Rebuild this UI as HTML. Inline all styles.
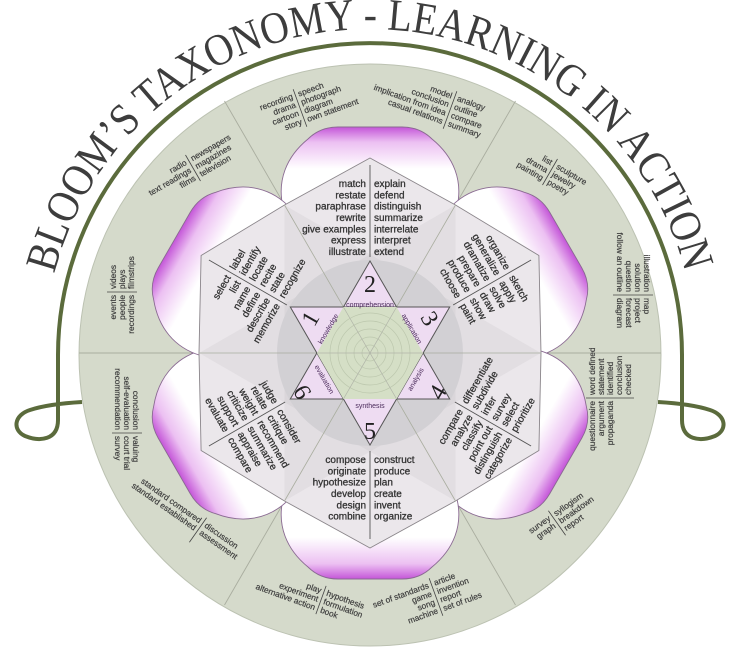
<!DOCTYPE html>
<html><head><meta charset="utf-8"><style>
html,body{margin:0;padding:0;background:#fff}
svg{display:block}
.o{font-family:"Liberation Sans",sans-serif;font-size:8.3px;fill:#3e3e3e;stroke:#3e3e3e;stroke-width:0.2}
.i{font-family:"Liberation Sans",sans-serif;font-size:10px;fill:#333;stroke:#333;stroke-width:0.3}
.n{font-family:"Liberation Serif",serif;font-size:24px;fill:#222}
.l{font-family:"Liberation Sans",sans-serif;font-size:7px;fill:#4a2a5a}
</style></head><body>
<svg width="736" height="668" viewBox="0 0 736 668" xmlns="http://www.w3.org/2000/svg">
<defs>
<linearGradient id="pg" x1="0" y1="-150" x2="0" y2="-226" gradientUnits="userSpaceOnUse">
<stop offset="0" stop-color="#fff"/><stop offset="0.45" stop-color="#fff"/><stop offset="0.8" stop-color="#ecc0f2"/><stop offset="1" stop-color="#c455d8"/>
</linearGradient>
<path id="petal" d="M-87,-146 C-93,-172 -84,-196 -62,-214 Q-50,-226 -32,-226 L32,-226 Q50,-226 62,-214 C84,-196 93,-172 87,-146 Z" fill="url(#pg)" stroke="#8a6a92" stroke-width="0.9"/>
<path id="tp" d="M44,355 A326,326 0 0 1 696,355"/>
</defs>

<path d="M58,355 A312,312 0 0 1 682,355" fill="none" stroke="#5b6b3c" stroke-width="4"/>
<path d="M58,354 L58,420 C58,440 40,442 25,436 C12,430 14,415 30,410 C45,405 65,403 82,402" fill="none" stroke="#5b6b3c" stroke-width="4"/>
<path d="M682,354 L682,420 C682,440 700,442 715,436 C728,430 726,415 710,410 C695,405 675,403 658,402" fill="none" stroke="#5b6b3c" stroke-width="4"/>

<text style="font-family:'Liberation Serif',serif;font-size:45px;fill:#3d3d3d"><textPath href="#tp" startOffset="82" textLength="858" lengthAdjust="spacingAndGlyphs">BLOOM’S TAXONOMY - LEARNING IN ACTION</textPath></text>

<circle cx="370" cy="355" r="291" fill="#d5dacb" stroke="#bcc2b2" stroke-width="1"/>

<g transform="translate(370,353)">
<g stroke="#a9ad9f" stroke-width="0.9">
<line x1="0" y1="0" x2="291" y2="0"/><line x1="0" y1="0" x2="-291" y2="0"/>
<line x1="0" y1="0" x2="145.5" y2="-252"/><line x1="0" y1="0" x2="-145.5" y2="-252"/>
<line x1="0" y1="0" x2="145.5" y2="252"/><line x1="0" y1="0" x2="-145.5" y2="252"/>
</g>
<use href="#petal"/>
<use href="#petal" transform="rotate(60)"/>
<use href="#petal" transform="rotate(120)"/>
<use href="#petal" transform="rotate(180)"/>
<use href="#petal" transform="rotate(240)"/>
<use href="#petal" transform="rotate(300)"/>
<polygon points="0,-195 85.5,-148 168.9,-97.5 171,0 168.9,97.5 85.5,148 0,195 -85.5,148 -168.9,97.5 -171,0 -168.9,-97.5 -85.5,-148" fill="#ebe7eb" stroke="#8a858a" stroke-width="0.9"/>
<polygon points="171,0 -85.5,-148 -85.5,148" fill="#000" fill-opacity="0.035"/>
<polygon points="-171,0 85.5,-148 85.5,148" fill="#000" fill-opacity="0.035"/>
<circle r="93" fill="#d2d0d4"/>
<g stroke="#a9ad9f" stroke-width="0.8">
<line x1="-171" y1="0" x2="171" y2="0"/><line x1="-85.5" y1="-148" x2="85.5" y2="148"/><line x1="85.5" y1="-148" x2="-85.5" y2="148"/>
</g>
<polygon points="0,-92 79.7,46 -79.7,46" fill="#eedcf2" stroke="#555" stroke-width="1"/>
<polygon points="-79.7,-46 79.7,-46 0,92" fill="#eedcf2" stroke="#555" stroke-width="1"/>
<polygon points="26.6,-46 53.1,0 26.6,46 -26.6,46 -53.1,0 -26.6,-46" fill="#d5dfc6"/>
<g fill="none" stroke="#bcc7ad" stroke-width="0.7">
<circle r="8"/><circle r="16"/><circle r="24"/><circle r="32"/><circle r="40"/>
</g>
<g stroke="#b0b4a8" stroke-width="0.7"><line x1="-53" y1="0" x2="53" y2="0"/><line x1="-26.6" y1="-46" x2="26.6" y2="46"/><line x1="26.6" y1="-46" x2="-26.6" y2="46"/></g>

<g text-anchor="middle">
<g><text class="n" y="-61">2</text><text class="l" y="-46">comprehension</text></g>
<g transform="rotate(60)"><text class="n" y="-61">3</text><text class="l" y="-46">application</text></g>
<g transform="rotate(-60)"><text class="n" y="-61">1</text><text class="l" y="-46">knowledge</text></g>
<g><text class="l" y="55">synthesis</text><text class="n" y="86">5</text></g>
<g transform="rotate(-60)"><text class="l" y="55">analysis</text><text class="n" y="86">4</text></g>
<g transform="rotate(60)"><text class="l" y="55">evaluation</text><text class="n" y="86">6</text></g>
</g>

<g>
<line x1="0" y1="-188" x2="0" y2="-96" stroke="#555" stroke-width="0.9"/>
<g class="i" text-anchor="end">
<text x="-4" y="-166">match</text><text x="-4" y="-154.7">restate</text><text x="-4" y="-143.3">paraphrase</text><text x="-4" y="-132">rewrite</text><text x="-4" y="-120.7">give examples</text><text x="-4" y="-109.3">express</text><text x="-4" y="-98">illustrate</text>
</g>
<g class="i">
<text x="4" y="-166">explain</text><text x="4" y="-154.7">defend</text><text x="4" y="-143.3">distinguish</text><text x="4" y="-132">summarize</text><text x="4" y="-120.7">interrelate</text><text x="4" y="-109.3">interpret</text><text x="4" y="-98">extend</text>
</g>
</g>
<g transform="rotate(-60)">
<line x1="0" y1="-186" x2="0" y2="-96" stroke="#555" stroke-width="0.9"/>
<g class="i" text-anchor="end">
<text x="-4" y="-158">select</text><text x="-4" y="-146.7">list</text><text x="-4" y="-135.3">name</text><text x="-4" y="-124">define</text><text x="-4" y="-112.7">describe</text><text x="-4" y="-101.3">memorize</text>
</g>
<g class="i">
<text x="4" y="-158">label</text><text x="4" y="-146.7">identify</text><text x="4" y="-135.3">locate</text><text x="4" y="-124">recite</text><text x="4" y="-112.7">state</text><text x="4" y="-101.3">recognize</text>
</g>
</g>
<g transform="rotate(60)">
<line x1="0" y1="-186" x2="0" y2="-96" stroke="#555" stroke-width="0.9"/>
<g class="i" text-anchor="end">
<text x="-4" y="-158">organize</text><text x="-4" y="-146.7">generalize</text><text x="-4" y="-135.3">dramatize</text><text x="-4" y="-124">prepare</text><text x="-4" y="-112.7">produce</text><text x="-4" y="-101.3">choose</text>
</g>
<g class="i">
<text x="4" y="-158">sketch</text><text x="4" y="-146.7">apply</text><text x="4" y="-135.3">solve</text><text x="4" y="-124">draw</text><text x="4" y="-112.7">show</text><text x="4" y="-101.3">paint</text>
</g>
</g>
<g>
<line x1="0" y1="98" x2="0" y2="186" stroke="#555" stroke-width="0.9"/>
<g class="i" text-anchor="end">
<text x="-4" y="110">compose</text><text x="-4" y="121.3">originate</text><text x="-4" y="132.7">hypothesize</text><text x="-4" y="144">develop</text><text x="-4" y="155.3">design</text><text x="-4" y="166.7">combine</text>
</g>
<g class="i">
<text x="4" y="110">construct</text><text x="4" y="121.3">produce</text><text x="4" y="132.7">plan</text><text x="4" y="144">create</text><text x="4" y="155.3">invent</text><text x="4" y="166.7">organize</text>
</g>
</g>
<g transform="rotate(-60)">
<line x1="0" y1="98" x2="0" y2="186" stroke="#555" stroke-width="0.9"/>
<g class="i" text-anchor="end">
<text x="-4" y="110">compare</text><text x="-4" y="121.3">analyze</text><text x="-4" y="132.7">classify</text><text x="-4" y="144">point out</text><text x="-4" y="155.3">distinguish</text><text x="-4" y="166.7">categorize</text>
</g>
<g class="i">
<text x="4" y="110">differentiate</text><text x="4" y="121.3">subdivide</text><text x="4" y="132.7">infer</text><text x="4" y="144">survey</text><text x="4" y="155.3">select</text><text x="4" y="166.7">prioritize</text>
</g>
</g>
<g transform="rotate(60)">
<line x1="0" y1="98" x2="0" y2="186" stroke="#555" stroke-width="0.9"/>
<g class="i" text-anchor="end">
<text x="-4" y="110">judge</text><text x="-4" y="121.3">relate</text><text x="-4" y="132.7">weight</text><text x="-4" y="144">criticize</text><text x="-4" y="155.3">support</text><text x="-4" y="166.7">evaluate</text>
</g>
<g class="i">
<text x="4" y="110">consider</text><text x="4" y="121.3">critique</text><text x="4" y="132.7">recommend</text><text x="4" y="144">summarize</text><text x="4" y="155.3">appraise</text><text x="4" y="166.7">compare</text>
</g>
</g>
</g>

<g class="o">
<g transform="translate(300,108) rotate(-20)"><line x1="0" y1="-20" x2="0" y2="20" stroke="#444" stroke-width="0.8"/>
<g text-anchor="end"><text x="-3" y="-11">recording</text><text x="-3" y="-2">drama</text><text x="-3" y="7">cartoon</text><text x="-3" y="16">story</text></g>
<g><text x="3" y="-11">speech</text><text x="3" y="-2">photograph</text><text x="3" y="7">diagram</text><text x="3" y="16">own statement</text></g></g>

<g transform="translate(450,110) rotate(20)"><line x1="0" y1="-20" x2="0" y2="20" stroke="#444" stroke-width="0.8"/>
<g text-anchor="end"><text x="-3" y="-11">model</text><text x="-3" y="-2">conclusion</text><text x="-3" y="7">implication from idea</text><text x="-3" y="16">casual relations</text></g>
<g><text x="3" y="-11">analogy</text><text x="3" y="-2">outline</text><text x="3" y="7">compare</text><text x="3" y="16">summary</text></g></g>

<g transform="translate(193,168) rotate(-30)"><line x1="0" y1="-15" x2="0" y2="15" stroke="#444" stroke-width="0.8"/>
<g text-anchor="end"><text x="-3" y="-6">radio</text><text x="-3" y="3">text readings</text><text x="-3" y="12">films</text></g>
<g><text x="3" y="-6">newspapers</text><text x="3" y="3">magazines</text><text x="3" y="12">television</text></g></g>

<g transform="translate(550,172) rotate(30)"><line x1="0" y1="-15" x2="0" y2="15" stroke="#444" stroke-width="0.8"/>
<g text-anchor="end"><text x="-3" y="-6">list</text><text x="-3" y="3">drama</text><text x="-3" y="12">painting</text></g>
<g><text x="3" y="-6">sculpture</text><text x="3" y="3">jewelry</text><text x="3" y="12">poetry</text></g></g>

<g transform="translate(122,292) rotate(-90)"><line x1="0" y1="-15" x2="0" y2="15" stroke="#444" stroke-width="0.8"/>
<g text-anchor="end"><text x="-3" y="-6">events</text><text x="-3" y="3">people</text><text x="-3" y="12">recordings</text></g>
<g><text x="3" y="-6">videos</text><text x="3" y="3">plays</text><text x="3" y="12">filmstrips</text></g></g>

<g transform="translate(633,295) rotate(90)"><line x1="0" y1="-20" x2="0" y2="20" stroke="#444" stroke-width="0.8"/>
<g text-anchor="end"><text x="-3" y="-11">illustration</text><text x="-3" y="-2">solution</text><text x="-3" y="7">question</text><text x="-3" y="16">follow an outline</text></g>
<g><text x="3" y="-11">map</text><text x="3" y="-2">project</text><text x="3" y="7">forecast</text><text x="3" y="16">diagram</text></g></g>

<g transform="translate(127,433) rotate(90)"><line x1="0" y1="-15" x2="0" y2="15" stroke="#444" stroke-width="0.8"/>
<g text-anchor="end"><text x="-3" y="-6">conclusion</text><text x="-3" y="3">self-evaluation</text><text x="-3" y="12">recommendation</text></g>
<g><text x="3" y="-6">valuing</text><text x="3" y="3">court trial</text><text x="3" y="12">survey</text></g></g>

<g transform="translate(610,398) rotate(-90)"><line x1="0" y1="-24" x2="0" y2="24" stroke="#444" stroke-width="0.8"/>
<g text-anchor="end"><text x="-3" y="-15">questionnaire</text><text x="-3" y="-6">argument</text><text x="-3" y="3">propaganda</text></g>
<g><text x="3" y="-15">word defined</text><text x="3" y="-6">statement</text><text x="3" y="3">identified</text><text x="3" y="12">conclusion</text><text x="3" y="21">checked</text></g></g>

<g transform="translate(198,530) rotate(35)"><line x1="0" y1="-15" x2="0" y2="15" stroke="#444" stroke-width="0.8"/>
<g text-anchor="end"><text x="-3" y="-6">standard compared</text><text x="-3" y="3">standard established</text></g>
<g><text x="3" y="-6">discussion</text><text x="3" y="3">assessment</text></g></g>

<g transform="translate(557,523) rotate(-35)"><line x1="0" y1="-15" x2="0" y2="15" stroke="#444" stroke-width="0.8"/>
<g text-anchor="end"><text x="-3" y="-6">survey</text><text x="-3" y="3">graph</text></g>
<g><text x="3" y="-6">syllogism</text><text x="3" y="3">breakdown</text><text x="3" y="12">report</text></g></g>

<g transform="translate(321,600) rotate(20)"><line x1="0" y1="-15" x2="0" y2="15" stroke="#444" stroke-width="0.8"/>
<g text-anchor="end"><text x="-3" y="-6">play</text><text x="-3" y="3">experiment</text><text x="-3" y="12">alternative action</text></g>
<g><text x="3" y="-6">hypothesis</text><text x="3" y="3">formulation</text><text x="3" y="12">book</text></g></g>

<g transform="translate(436,597) rotate(-20)"><line x1="0" y1="-20" x2="0" y2="20" stroke="#444" stroke-width="0.8"/>
<g text-anchor="end"><text x="-3" y="-11">set of standards</text><text x="-3" y="-2">game</text><text x="-3" y="7">song</text><text x="-3" y="16">machine</text></g>
<g><text x="3" y="-11">article</text><text x="3" y="-2">invention</text><text x="3" y="7">report</text><text x="3" y="16">set of rules</text></g></g>
</g>
</svg>
</body></html>
